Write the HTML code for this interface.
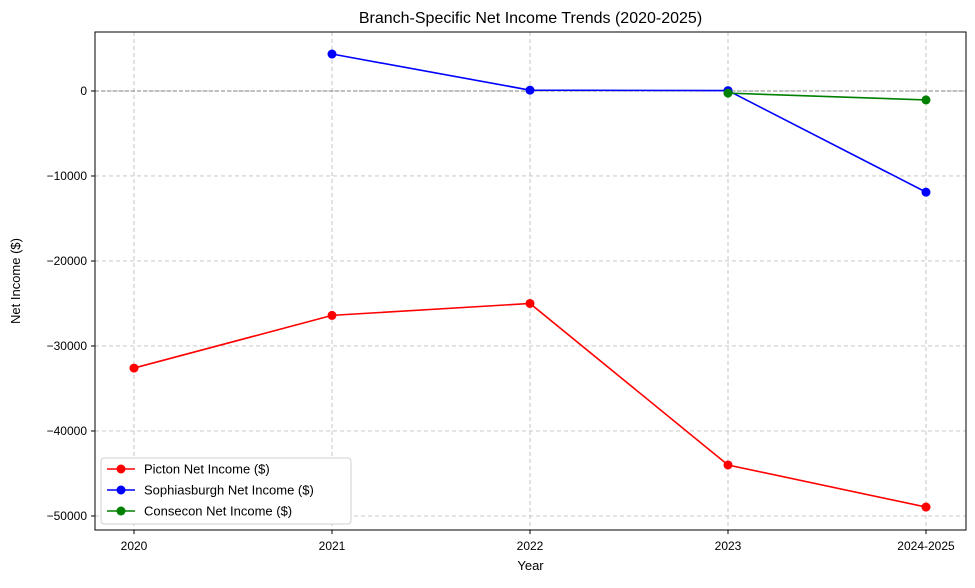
<!DOCTYPE html>
<html><head><meta charset="utf-8"><style>
body{margin:0;background:#fff;font-family:"Liberation Sans",sans-serif;}
</style></head><body>
<svg id="chart" width="975" height="583" xmlns="http://www.w3.org/2000/svg"></svg>
<script>
const categories=["2020","2021","2022","2023","2024-2025"];
const picton=[-32600,-26400,-25000,-44000,-48950];
const sophiasburgh=[null,4350,100,50,-11900];
const consecon=[null,null,null,-250,-1050];
const yTicks=[0,-10000,-20000,-30000,-40000,-50000];
const yTickLabels=["0","−10000","−20000","−30000","−40000","−50000"];
const seriesNames=["Picton Net Income ($)","Sophiasburgh Net Income ($)","Consecon Net Income ($)"];

const L=95,R=966,T=32,B=530;
const yMax=6940,yMin=-51650;
const x=i=>134+i*198;
const y=v=>T+(yMax-v)/(yMax-yMin)*(B-T);
const svg=document.getElementById('chart');
const NS="http://www.w3.org/2000/svg";
function el(tag,attrs,parent){const e=document.createElementNS(NS,tag);for(const k in attrs)e.setAttribute(k,attrs[k]);(parent||svg).appendChild(e);return e;}

const title=el('text',{x:(L+R)/2,y:23,'text-anchor':'middle','font-size':16,fill:'#000'});
title.textContent="Branch-Specific Net Income Trends (2020-2025)";



categories.forEach((c,i)=>{
 const g=el('line',{x1:x(i),x2:x(i),y1:T,y2:B,stroke:'#c0c0c0','stroke-dasharray':'4,3','stroke-width':0.9});
 
 
 el('line',{x1:x(i),x2:x(i),y1:B,y2:B+4,stroke:'#000'});
 const t=el('text',{x:x(i),y:B+20,'text-anchor':'middle','font-size':12});
 t.textContent=c;
 
 
});
yTicks.forEach((v,i)=>{
 const g=el('line',{x1:L,x2:R,y1:y(v),y2:y(v),stroke:'#c0c0c0','stroke-dasharray':'4,3','stroke-width':0.9});
 
 
 el('line',{x1:L-4,x2:L,y1:y(v),y2:y(v),stroke:'#000'});
 const t=el('text',{x:L-8,y:y(v)+4,'text-anchor':'end','font-size':12});
 t.textContent=yTickLabels[i];
 
 
});
const zl=el('line',{x1:L,x2:R,y1:y(0),y2:y(0),stroke:'#808080','stroke-dasharray':'4,2','stroke-width':1});



const colors=['#ff0000','#0000ff','#008000'];
[picton,sophiasburgh,consecon].forEach((s,k)=>{
 const pts=[];s.forEach((v,i)=>{if(v!==null)pts.push([x(i),y(v)]);});
 const p=el('polyline',{points:pts.map(p=>p.join(',')).join(' '),fill:'none',stroke:colors[k],'stroke-width':1.6});
 
 
 pts.forEach(q=>{
  const c=el('circle',{cx:q[0],cy:q[1],r:4.5,fill:colors[k]});
  
  
 });
});

const frame=el('rect',{x:L,y:T,width:R-L,height:B-T,fill:'none',stroke:'#000','stroke-width':1});



const xt=el('text',{x:(L+R)/2,y:570,'text-anchor':'middle','font-size':13});
xt.textContent="Year";


const yt=el('text',{x:20,y:(T+B)/2,'text-anchor':'middle','font-size':13,transform:`rotate(-90 20 ${(T+B)/2})`});
yt.textContent="Net Income ($)";



const lg=el('rect',{x:101,y:458,width:250,height:66,fill:'#fff',stroke:'#d0d0d0',rx:3});


seriesNames.forEach((n,k)=>{
 const yy=469+k*21;
 el('line',{x1:107,x2:135,y1:yy,y2:yy,stroke:colors[k],'stroke-width':1.6});
 el('circle',{cx:121,cy:yy,r:4.5,fill:colors[k]});
 const t=el('text',{x:144,y:yy+4.5,'font-size':13});
 t.textContent=n;
 
 
});
</script>
</body></html>
